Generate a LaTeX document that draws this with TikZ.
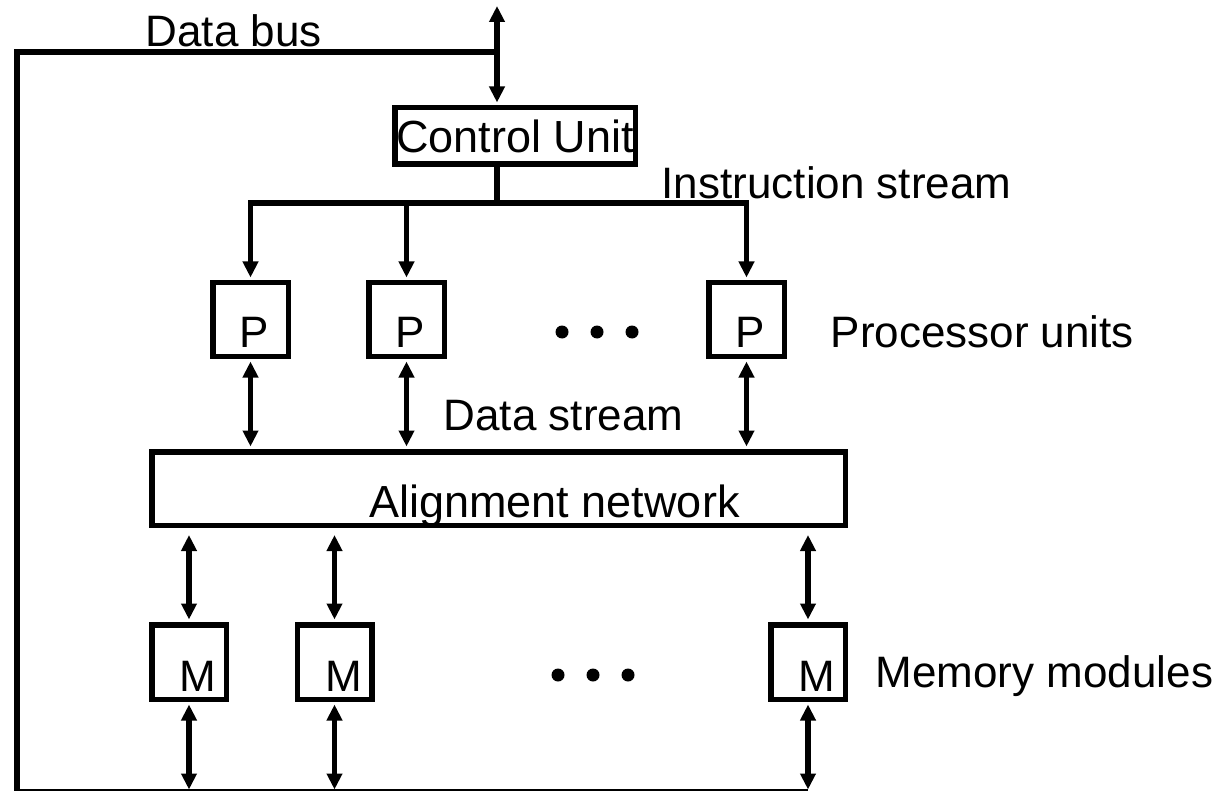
\documentclass[tikz,border=0pt]{standalone}
\usepackage{fontspec}
\setmainfont{Liberation Sans}
\usetikzlibrary{arrows.meta}

\begin{document}
\begin{tikzpicture}[x=1pt,y=-1pt,line width=5.5pt,
		>={Triangle[length=16pt,width=15pt]},
		font=\fontsize{44}{50}\selectfont]

	\tikzstyle{unit}=[draw=black,fill=white,line width=5.5pt,inner sep=0pt]
	\tikzstyle{proc}=[unit,
		minimum width=75.5pt,minimum height=73.5pt,
		text height=55pt,text depth=0pt,
		execute at begin node={\hspace*{8pt}}]
	\tikzstyle{mem}=[unit,
		minimum width=74.5pt,minimum height=74.5pt,
		text height=58pt,text depth=0pt,
		execute at begin node={\hspace*{18pt}}]
	\tikzstyle{caption}=[inner sep=0pt,anchor=base west]
	\tikzstyle{link}=[->,shorten >=2.5pt]
	\tikzstyle{dbl}=[<->,shorten >=2.5pt,shorten <=2.5pt]

	\useasboundingbox (0,0) rectangle (1222,791);

	% units
	\node[unit,minimum width=240.5pt,minimum height=56.5pt,
		font=\fontsize{45}{50}\selectfont]	(cu)	at (515,136)	{Control Unit};
	\node[proc]	(p1)	at (250.5,319.5)	{P};
	\node[proc,right of=p1,node distance=156pt]	(p2)	{P};
	\node[proc,right of=p2,node distance=340pt]	(p3)	{P};
	\node[unit,minimum width=693.5pt,minimum height=73.5pt,
		text height=57pt,text depth=0pt,
		font=\fontsize{45}{50}\selectfont]	(al)	at (498.5,488.5)	{\hspace*{112pt}Alignment network};
	\node[mem]	(m1)	at (189,662)	{M};
	\node[mem,right of=m1,node distance=145.5pt]	(m2)	{M};
	\node[mem,right of=m2,node distance=473.5pt]	(m3)	{M};

	% captions
	\node[caption]	(lbus)	at (143,47)	{Data bus};
	\node[caption]	(linst)	at (659,199)	{Instruction stream};
	\node[caption]	(lproc)	at (828,347)	{Processor units};
	\node[caption]	(ldata)	at (441,430)	{Data stream};
	\node[caption]	(lmem)	at (873,687)	{Memory modules};

	% dots
	\foreach \x in {562,597,632} \fill (\x,332) circle (6.5pt);
	\foreach \x in {558,593,628} \fill (\x,675) circle (6.5pt);

	% data bus
	\coordinate (ext)	at (497,6);
	\coordinate (bus)	at (497,52);
	\coordinate (bl)	at (17,791.5);
	\draw (bus) -| (bl) -- (bl -| m3);
	\draw[<->,shorten >=2.5pt] (ext) -- (ext |- cu.north);

	% instruction stream
	\coordinate (split)	at (497,203);
	\draw (split |- cu.south) -- (split);
	\draw[link] (split) -| (p1.north);
	\draw[link] (split) -| (p3.north);
	\draw[link] (split -| p2.north) -- (p2.north);

	% data stream
	\foreach \p in {p1,p2,p3}
		\draw[dbl] (\p.south) -- (\p.south |- al.north);
	\foreach \m in {m1,m2,m3}{
		\draw[dbl,shorten <=7pt] (\m.north |- al.south) -- (\m.north);
		\draw[<->,shorten <=2.5pt,shorten >=2pt] (\m.south) -- (\m.south |- bl);
	}

\end{tikzpicture}
\end{document}
